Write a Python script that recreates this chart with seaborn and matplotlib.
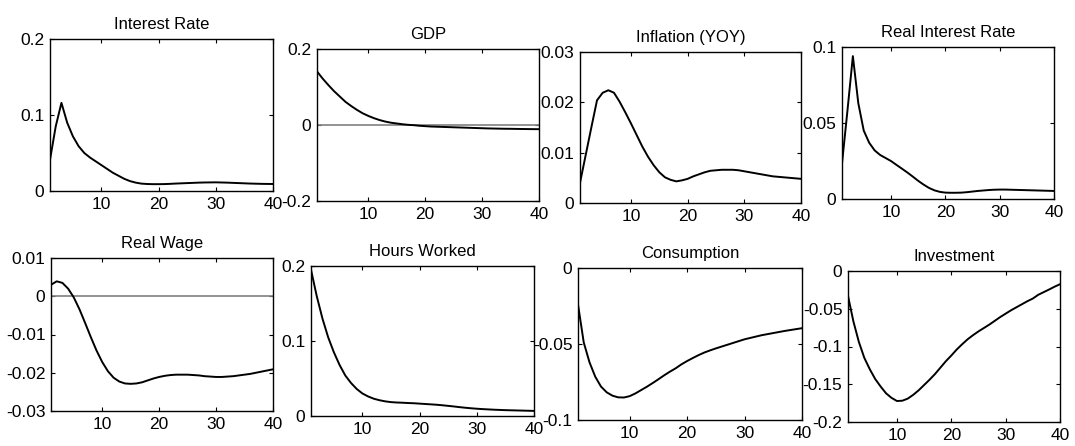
import numpy as np
import pandas as pd
import matplotlib
matplotlib.use("Agg")
import matplotlib.pyplot as plt
from matplotlib.ticker import FuncFormatter
import seaborn as sns

# Impulsantworten, Perioden 1..40
perioden = list(range(1, 41))

zins = [0.041, 0.085, 0.116, 0.090, 0.072, 0.059, 0.050, 0.044, 0.039, 0.034,
        0.029, 0.024, 0.020, 0.016, 0.013, 0.011, 0.0097, 0.0092, 0.0090, 0.0090,
        0.0091, 0.0094, 0.0098, 0.0101, 0.0104, 0.0107, 0.0110, 0.0112, 0.0113, 0.0114,
        0.0112, 0.0110, 0.0107, 0.0104, 0.0101, 0.0098, 0.0096, 0.0094, 0.0093, 0.0092]

bip = [0.141, 0.122, 0.105, 0.089, 0.075, 0.061, 0.050, 0.040, 0.031, 0.024,
       0.018, 0.013, 0.009, 0.006, 0.004, 0.002, 0.0005, -0.0005, -0.002, -0.003,
       -0.004, -0.0045, -0.005, -0.0055, -0.006, -0.0065, -0.007, -0.0075, -0.008, -0.0085,
       -0.009, -0.0093, -0.0096, -0.0099, -0.010, -0.0103, -0.0105, -0.0107, -0.0109, -0.011]

inflation = [0.0040, 0.0095, 0.0150, 0.0204, 0.0219, 0.0224, 0.0219, 0.0201, 0.0180, 0.0158,
             0.0135, 0.0112, 0.0092, 0.0075, 0.0061, 0.0051, 0.0046, 0.0043, 0.0045, 0.0048,
             0.0053, 0.0057, 0.0061, 0.0064, 0.0065, 0.0066, 0.0066, 0.0066, 0.0065, 0.0063,
             0.0061, 0.0059, 0.0057, 0.0055, 0.0053, 0.0052, 0.0051, 0.0050, 0.0049, 0.0048]

realzins = [0.0234, 0.058, 0.094, 0.063, 0.045, 0.037, 0.032, 0.029, 0.027, 0.025,
            0.0225, 0.0200, 0.0175, 0.0148, 0.0120, 0.0095, 0.0073, 0.0057, 0.0047, 0.0042,
            0.0041, 0.0041, 0.0042, 0.0045, 0.0049, 0.0053, 0.0056, 0.0059, 0.0061, 0.0062,
            0.0062, 0.0061, 0.0060, 0.0059, 0.0058, 0.0057, 0.0056, 0.0055, 0.0054, 0.0053]

reallohn = [0.0030, 0.0039, 0.0035, 0.0020, -0.0003, -0.0034, -0.0070, -0.0107, -0.0142, -0.0172,
            -0.0196, -0.0213, -0.0223, -0.0228, -0.0229, -0.0228, -0.0225, -0.0220, -0.0215, -0.0211,
            -0.0208, -0.0206, -0.0205, -0.0205, -0.0205, -0.0206, -0.0207, -0.0209, -0.0210, -0.0211,
            -0.0211, -0.0210, -0.0209, -0.0207, -0.0205, -0.0203, -0.0200, -0.0197, -0.0194, -0.0191]

stunden = [0.195, 0.160, 0.130, 0.105, 0.085, 0.068, 0.054, 0.044, 0.036, 0.030,
           0.026, 0.023, 0.021, 0.0195, 0.0185, 0.0180, 0.0177, 0.0173, 0.0170, 0.0165,
           0.0160, 0.0155, 0.0150, 0.0143, 0.0135, 0.0127, 0.0118, 0.0110, 0.0103, 0.0097,
           0.0092, 0.0088, 0.0084, 0.0081, 0.0078, 0.0076, 0.0074, 0.0072, 0.0070, 0.0068]

konsum = [-0.024, -0.049, -0.062, -0.0715, -0.078, -0.0818, -0.0840, -0.0851, -0.0852, -0.0843,
          -0.0825, -0.0803, -0.0781, -0.0757, -0.0732, -0.0706, -0.0682, -0.0660, -0.0634, -0.0612,
          -0.0592, -0.0573, -0.0556, -0.0542, -0.0529, -0.0517, -0.0505, -0.0493, -0.0481, -0.0469,
          -0.0460, -0.0451, -0.0442, -0.0435, -0.0428, -0.0421, -0.0414, -0.0408, -0.0402, -0.0396]

investition = [-0.033, -0.067, -0.094, -0.115, -0.130, -0.143, -0.153, -0.162, -0.168, -0.1722,
               -0.1718, -0.169, -0.164, -0.158, -0.151, -0.144, -0.1365, -0.128, -0.1195, -0.112,
               -0.104, -0.097, -0.0905, -0.085, -0.080, -0.0755, -0.071, -0.066, -0.061, -0.0565,
               -0.052, -0.048, -0.044, -0.040, -0.0365, -0.0315, -0.028, -0.0245, -0.0208, -0.0175]

titel = ["Interest Rate", "GDP", "Inflation (YOY)", "Real Interest Rate",
         "Real Wage", "Hours Worked", "Consumption", "Investment"]
reihen = [zins, bip, inflation, realzins, reallohn, stunden, konsum, investition]
y_ticks = [[0, 0.1, 0.2], [-0.2, 0, 0.2], [0, 0.01, 0.02, 0.03], [0, 0.05, 0.1],
           [-0.03, -0.02, -0.01, 0, 0.01], [0, 0.1, 0.2], [-0.1, -0.05, 0],
           [-0.2, -0.15, -0.1, -0.05, 0]]
x_ticks = [10, 20, 30, 40]

sns.set_style("ticks")
plt.rcParams['font.family'] = ['Liberation Sans', 'DejaVu Sans']
plt.rcParams['text.color'] = 'black'

B, H = 1075, 446
# Achsen-Rahmen in Pixeln: links, rechts, oben, unten
rahmen = [(50, 273, 39, 191), (317, 539, 49, 201), (580, 801, 52, 203), (842, 1054, 47, 199),
          (51, 273, 258, 411), (311, 534, 266, 416), (578, 802, 268, 420), (848, 1060, 271, 422)]

fig = plt.figure(figsize=(B / 100, H / 100), dpi=100)
fmt = FuncFormatter(lambda v, p: "%g" % round(v, 6))

for i, (name, werte) in enumerate(zip(titel, reihen)):
    l, r, o, u = rahmen[i]
    ax = fig.add_axes([l / B, (H - u) / H, (r - l) / B, (u - o) / H])
    df = pd.DataFrame({"periode": perioden, "wert": werte})
    if name in ("GDP", "Real Wage"):
        ax.axhline(0, color="#808080", lw=1.2, zorder=1)
    sns.lineplot(data=df, x="periode", y="wert", ax=ax, color="black", lw=1.4, zorder=2)
    ax.set_xlim(1, 40)
    ax.set_ylim(y_ticks[i][0], y_ticks[i][-1])
    ax.set_xticks(x_ticks)
    ax.set_yticks(y_ticks[i])
    ax.yaxis.set_major_formatter(fmt)
    ax.set_xlabel("")
    ax.set_ylabel("")
    ax.tick_params(direction="in", top=True, right=True, length=3, width=0.8,
                   labelsize=12.5, pad=4, colors="black")
    for s in ax.spines.values():
        s.set_linewidth(1.0)
        s.set_color("black")
    ax.set_title(name, fontsize=12, pad=7, color="black")

plt.savefig("out.png", dpi=100)
plt.close()
